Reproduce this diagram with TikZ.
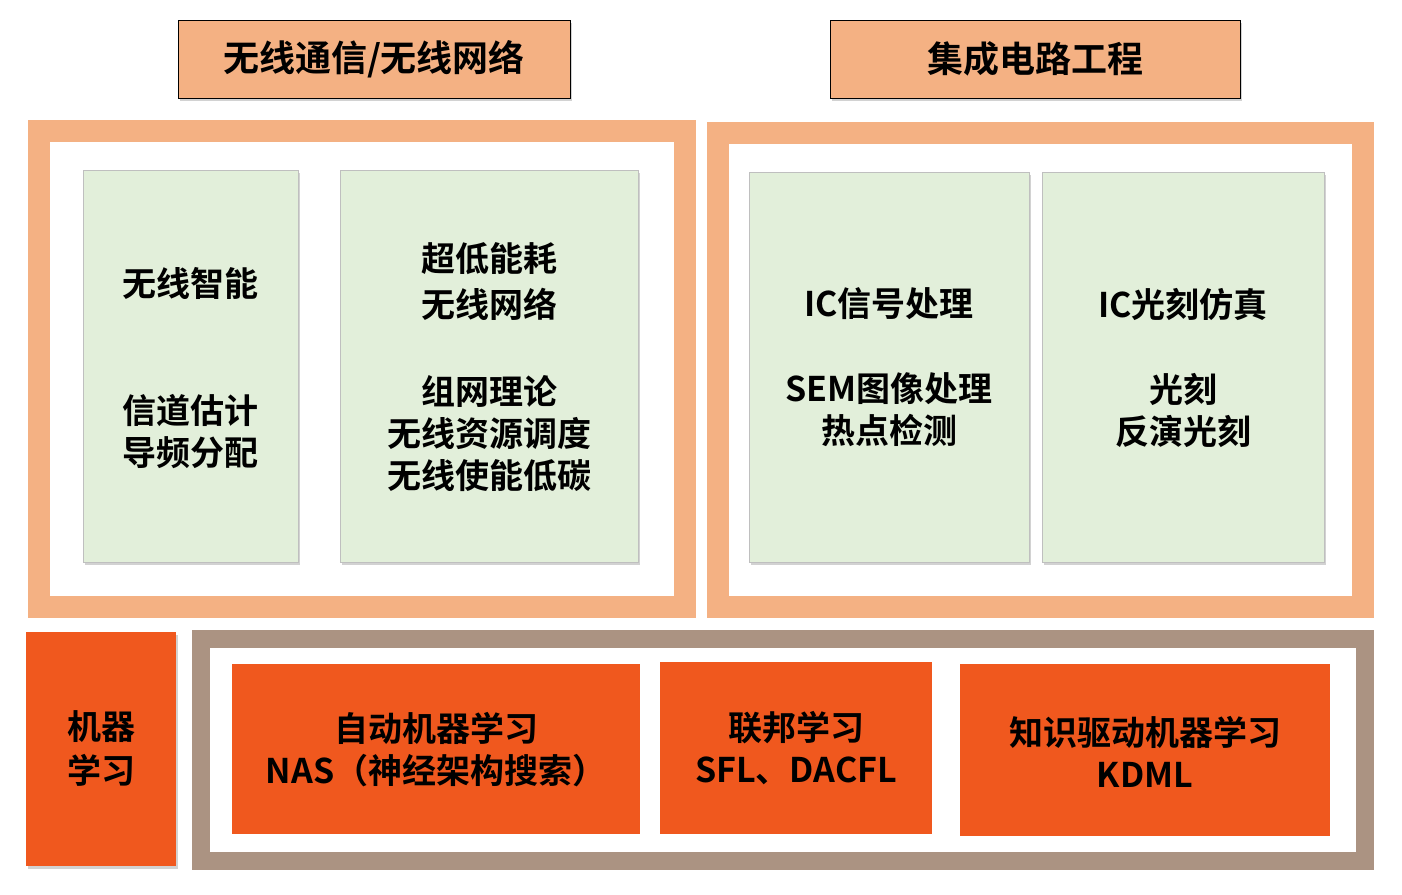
\documentclass[tikz,border=0pt]{standalone}
\usepackage{fontspec}
\setmainfont{Noto Sans CJK SC Bold}
\usetikzlibrary{shadows}
\definecolor{lo}{HTML}{F4B183}
\definecolor{gr}{HTML}{E2EFDA}
\definecolor{ro}{HTML}{F0581E}
\definecolor{br}{HTML}{AB9382}
\tikzset{
 titlebox/.style={fill=lo,drop shadow={shadow xshift=2pt,shadow yshift=-3pt,opacity=.35}},
 greenbox/.style={fill=gr,draw=black!25,drop shadow={shadow xshift=2pt,shadow yshift=-3pt,opacity=.35}},
 txt/.style={font=\fontsize{34}{40}\selectfont,align=center,inner sep=0},
 tt/.style={font=\fontsize{36}{42}\selectfont,align=center,inner sep=0},
}
\begin{document}
\begin{tikzpicture}[x=1pt,y=-1pt]
\useasboundingbox (0,0) rectangle (1402,894);
\fill[white] (0,0) rectangle (1402,894);
\draw[titlebox] (178,20) rectangle (570,98);
\node[tt] (t1) at (374,59) {无线通信/无线网络};
\draw[titlebox] (830,20) rectangle (1240,98);
\node[tt] (t2) at (1035,59) {集成电路工程};
% left frame
\fill[lo] (28,120) rectangle (696,618);
\fill[white] (50,142) rectangle (674,596);
\draw[greenbox] (83,170) rectangle (298,562);
\draw[greenbox] (340,170) rectangle (638,562);
\node[txt] (a1) at (190,283) {无线智能};
\node[txt] (a2) at (190,432) {信道估计\\[2pt]导频分配};
\node[txt] (b1) at (489,282) {超低能耗\\[6pt]无线网络};
\node[txt] (b2) at (489,434) {组网理论\\[2pt]无线资源调度\\[2pt]无线使能低碳};
% right frame
\fill[lo] (707,122) rectangle (1374,618);
\fill[white] (729,144) rectangle (1352,596);
\draw[greenbox] (749,172) rectangle (1029,562);
\draw[greenbox] (1042,172) rectangle (1324,562);
\node[txt] (c1) at (889,304) {IC信号处理};
\node[txt] (c2) at (889,410) {SEM图像处理\\[2pt]热点检测};
\node[txt] (d1) at (1183,304) {IC光刻仿真};
\node[txt] (d2) at (1183,410) {光刻\\[2pt]反演光刻};
% ML
\fill[ro,drop shadow={shadow xshift=2pt,shadow yshift=-3pt,opacity=.35}] (26,632) rectangle (176,866);
\node[txt] (m) at (101,748) {机器\\[4pt]学习};
\fill[br] (192,630) rectangle (1374,870);
\fill[white] (210,648) rectangle (1356,852);
\fill[ro] (232,664) rectangle (640,834);
\fill[ro] (660,662) rectangle (932,834);
\fill[ro] (960,664) rectangle (1330,836);
\node[txt] (e) at (436,750) {自动机器学习\\[2pt]NAS（神经架构搜索）};
\node[txt] (f) at (796,748) {联邦学习\\[2pt]SFL、DACFL};
\node[txt] (g) at (1145,752) {知识驱动机器学习\\[2pt]KDML};
\end{tikzpicture}
\end{document}
